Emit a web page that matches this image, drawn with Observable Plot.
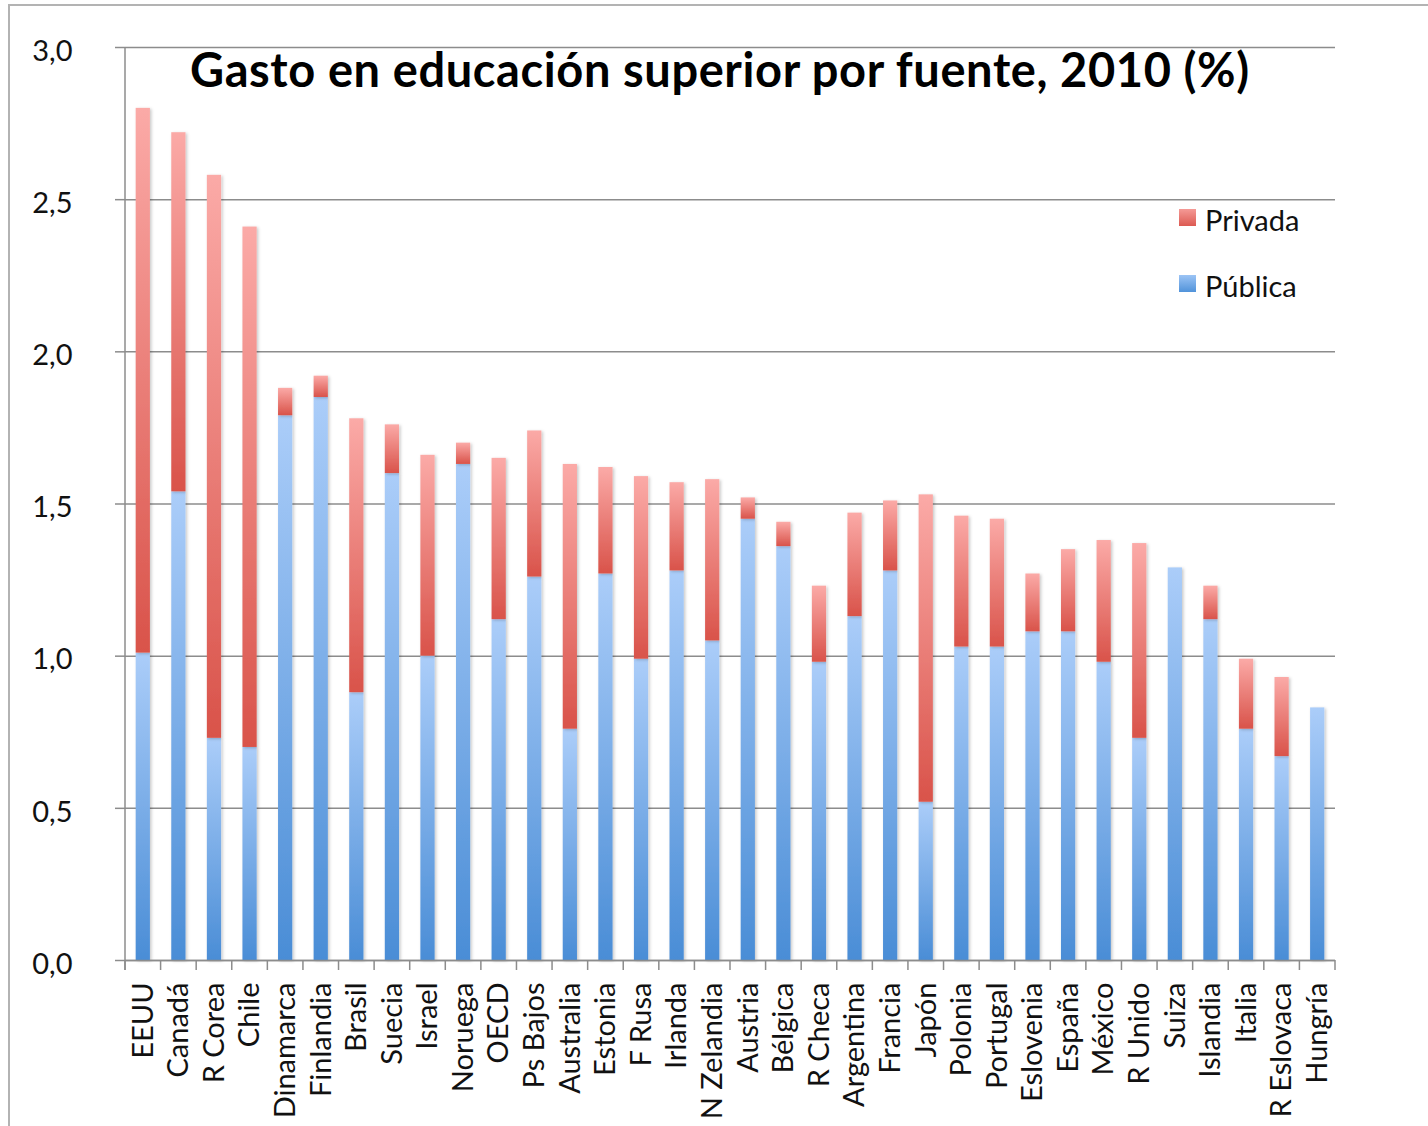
<!DOCTYPE html>
<html>
<head>
<meta charset="utf-8">
<script src="https://cdn.jsdelivr.net/npm/d3@7"></script>
<script src="https://cdn.jsdelivr.net/npm/@observablehq/plot@0.6"></script>
<style>
  html, body { margin: 0; padding: 0; background: #fff; }
  body { width: 1428px; height: 1126px; overflow: hidden; position: relative; font-family: Lato, "Open Sans", sans-serif; }
  #frame { position: absolute; left: 8px; top: 4px; width: 1500px; height: 1200px; border-left: 2px solid #b3b3b3; border-top: 2px solid #b3b3b3; }
  #chart { position: absolute; left: 0; top: 0; }
  #title { position: absolute; left: 190px; top: 46px; font-family: Lato, sans-serif; font-weight: 700; font-size: 47px; line-height: 47px; letter-spacing: 0.6px; color: #000; white-space: nowrap; }
  .leg { position: absolute; left: 1179px; font-family: Lato, sans-serif; font-size: 29px; line-height: 29px; color: #111; white-space: nowrap; }
  .leg .sw { position: absolute; left: 0; width: 17px; height: 17px; }
  .leg .lbl { position: absolute; left: 26px; top: 0; }
</style>
</head>
<body>
<div id="frame"></div>
<div id="chart"></div>
<div id="title"></div>
<div id="legend"></div>
<script>
// ---- data ----
const paises = ["EEUU","Canadá","R Corea","Chile","Dinamarca","Finlandia","Brasil","Suecia","Israel","Noruega","OECD","Ps Bajos","Australia","Estonia","F Rusa","Irlanda","N Zelandia","Austria","Bélgica","R Checa","Argentina","Francia","Japón","Polonia","Portugal","Eslovenia","España","México","R Unido","Suiza","Islandia","Italia","R Eslovaca","Hungría"];
const publica = [1.01,1.54,0.73,0.70,1.79,1.85,0.88,1.60,1.00,1.63,1.12,1.26,0.76,1.27,0.99,1.28,1.05,1.45,1.36,0.98,1.13,1.28,0.52,1.03,1.03,1.08,1.08,0.98,0.73,1.29,1.12,0.76,0.67,0.83];
const privada = [1.79,1.18,1.85,1.71,0.09,0.07,0.90,0.16,0.66,0.07,0.53,0.48,0.87,0.35,0.60,0.29,0.53,0.07,0.08,0.25,0.34,0.23,1.01,0.43,0.42,0.19,0.27,0.40,0.64,0.00,0.11,0.23,0.26,0.00];
const yTicks = [0, 0.5, 1, 1.5, 2, 2.5, 3];
const series = ["Privada", "Pública"];
const titulo = "Gasto en educación superior por fuente, 2010 (%)";

// ---- table ----
const tabla = paises.map((p, i) => ({pais: p, publica: publica[i], privada: privada[i], total: publica[i] + privada[i]}));

const gridColor = "#8c8c8c";

// boundary ticks between categories (Excel style), drawn through the x scale
function boundaryTicks(index, scales, values, dimensions) {
  const x = scales.x, y = scales.y;
  const step = x(paises[1]) - x(paises[0]);
  const bw = step * 0.4;
  const y0 = y(0);
  const g = d3.create("svg:g").attr("stroke", gridColor).attr("stroke-width", 1.5);
  const xs = paises.map(p => x(p) + bw / 2 - step / 2);
  xs.push(x(paises[paises.length - 1]) + bw / 2 + step / 2);
  for (const xx of xs) {
    g.append("line").attr("x1", xx).attr("x2", xx).attr("y1", y0).attr("y2", y0 + 10);
  }
  // vertical y-axis line
  g.append("line").attr("x1", xs[0]).attr("x2", xs[0]).attr("y1", y(3)).attr("y2", y0 + 10);
  return g.node();
}

const chart = Plot.plot({
  width: 1428,
  height: 1126,
  marginLeft: 125,
  marginRight: 93,
  marginTop: 47,
  marginBottom: 166,
  style: {fontFamily: "Lato, sans-serif", fontSize: "29px", color: "#111", background: "transparent"},
  x: {domain: paises, paddingInner: 0.6, paddingOuter: 0.3, round: false},
  y: {domain: [0, 3]},
  marks: [
    Plot.gridY(yTicks, {stroke: gridColor, strokeOpacity: 1, strokeWidth: 1.5}),
    Plot.axisY({ticks: yTicks, tickSize: 10, text: null, stroke: gridColor, strokeWidth: 1.5}),
    Plot.axisY({ticks: yTicks, tickSize: 0, tickPadding: 53, dy: 4, fontSize: 29, fill: "#111",
                tickFormat: d => d.toFixed(1).replace(".", ","), label: null}),
    Plot.axisX({tickSize: 0, tickPadding: 22, tickRotate: -90, fontSize: 29, fill: "#111", label: null}),
    Plot.barY(tabla, {x: "pais", y1: 0, y2: "publica", fill: "url(#gPub)"}),
    Plot.barY(tabla.filter(d => d.privada > 0), {x: "pais", y1: "publica", y2: "total", fill: "url(#gPriv)"}),
    Plot.ruleY([0], {stroke: gridColor, strokeWidth: 1.5}),
    boundaryTicks
  ]
});

chart.insertAdjacentHTML("afterbegin", `
<defs>
  <linearGradient id="gPub" x1="0" y1="0" x2="0" y2="1">
    <stop offset="0" stop-color="#abcdf9"/>
    <stop offset="1" stop-color="#4a8dd6"/>
  </linearGradient>
  <linearGradient id="gPriv" x1="0" y1="0" x2="0" y2="1">
    <stop offset="0" stop-color="#fbaaa7"/>
    <stop offset="1" stop-color="#d9534a"/>
  </linearGradient>
  <filter id="sh" x="-30%" y="-5%" width="160%" height="110%">
    <feDropShadow dx="1.5" dy="1" stdDeviation="1.5" flood-color="#000" flood-opacity="0.22"/>
  </filter>
</defs>`);
chart.querySelectorAll('g[aria-label="bar"]').forEach(g => g.setAttribute("filter", "url(#sh)"));

document.getElementById("chart").appendChild(chart);
document.getElementById("title").textContent = titulo;

const legendGrad = {"Privada": "linear-gradient(#f59a96, #dc5a52)", "Pública": "linear-gradient(#9cc4f5, #5193da)"};
const legendTops = [205, 271];
const legend = document.getElementById("legend");
series.forEach((s, i) => {
  const item = document.createElement("div");
  item.className = "leg";
  item.style.top = legendTops[i] + "px";
  const sw = document.createElement("div");
  sw.className = "sw";
  sw.style.top = "4px";
  sw.style.background = legendGrad[s];
  const lbl = document.createElement("div");
  lbl.className = "lbl";
  lbl.textContent = s;
  item.appendChild(sw);
  item.appendChild(lbl);
  legend.appendChild(item);
});
</script>
</body>
</html>
